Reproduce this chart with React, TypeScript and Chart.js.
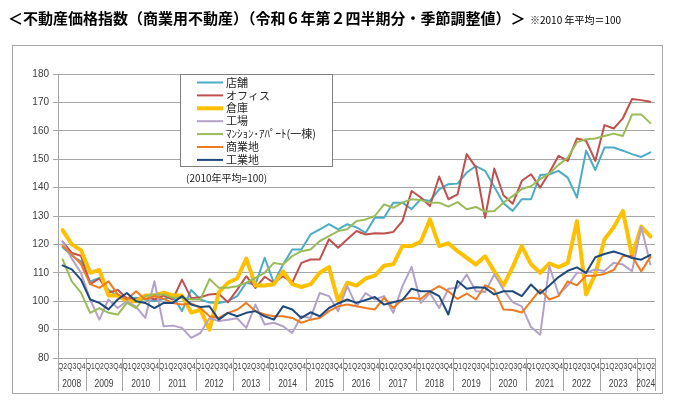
import React, { useEffect, useRef } from 'react';
import { Chart, registerables } from 'chart.js';

Chart.register(...registerables);

const titleText = '＜不動産価格指数（商業用不動産）（令和６年第２四半期分・季節調整値）＞';
const titleNote = '※2010 年平均＝100';
const legendNote = '(2010年平均=100)';

const yearLabels = ['2008', '2009', '2010', '2011', '2012', '2013', '2014', '2015', '2016', '2017', '2018', '2019', '2020', '2021', '2022', '2023', '2024'];
const quartersPerYear = [3, 4, 4, 4, 4, 4, 4, 4, 4, 4, 4, 4, 4, 4, 4, 4, 2];
const firstQuarter = 2;

const quarterLabels: string[] = [];
quartersPerYear.forEach((n, k) => {
  const start = k === 0 ? firstQuarter : 1;
  for (let q = 0; q < n; q++) quarterLabels.push('Q' + (start + q));
});

const seriesNames = ['店舗', 'オフィス', '倉庫', '工場', 'ﾏﾝｼｮﾝ･ｱﾊﾟｰﾄ(一棟)', '商業地', '工業地'];
const seriesColors = ['#4BACC6', '#C0504D', '#FFC000', '#B3A2C7', '#9BBB59', '#EE7B22', '#1F497D'];
const seriesWidths = [2, 2, 4, 2, 2, 2, 2];

const retail = [
  119, 116, 114, 107, 108.2, 104, 101.8, 100.6, 101.2, 100.6, 100, 100.8, 101.8, 96.5, 104, 100.6, 99.5,
  99.4, 100, 101.8, 106.5, 105.9, 115.3, 106.5, 112.9, 118.2, 118.2, 123.5, 125.3, 127.1, 125.3, 127.1,
  126, 124.1, 129.4, 129.4, 134.7, 134.7, 132.4, 135.9, 135.3, 139.4, 141.2, 141.4, 145.3, 147.6, 145.9, 140.3,
  134.5, 131.8, 135.9, 135.9, 144.4, 144.7, 145.9, 143.5, 136.5, 153, 146.2, 154.1, 154.1, 153, 151.8, 150.8, 152.4,
];
const office = [
  121, 117, 116, 106, 108, 103, 104, 101, 100.6, 102, 100.6, 102, 100.6, 107.6, 101, 101.4, 102.4,
  102.6, 99.6, 104, 108.8, 104.7, 108.6, 106.5, 108.8, 106.5, 113.5, 114.7, 114.7, 121.8, 118.8, 121.8,
  124.7, 123.5, 123.9, 123.8, 124.4, 128.2, 138.8, 136.5, 133.5, 143.9, 135.9, 137.6, 151.8, 147.1, 129.4, 146.7,
  137.3, 134.3, 142.4, 144.7, 140, 145.3, 151.2, 149.4, 157.3, 156.5, 149.4, 162, 160.8, 164.4, 171.2, 170.8, 170.2,
];
const warehouse = [
  125, 120, 118, 110, 111, 102, 102, 100, 100, 102, 102, 103, 102, 102, 96, 97, 90,
  103, 106.5, 108, 115, 105.5, 105.5, 106, 110.5, 106, 105, 106, 110, 112, 100, 106.5,
  105.5, 108, 109, 112.5, 113, 119.4, 119.4, 121, 128.8, 119.4, 120.4, 117.6, 115.3, 112.9, 115.8, 110.5,
  105.5, 112, 119.4, 113, 110, 113.3, 112, 113.5, 128.2, 102.4, 109.6, 121.8, 126, 131.8, 116, 126.3, 122.8,
];
const factory = [
  121, 115, 110, 100.6, 93.5, 100.6, 97.6, 100, 98, 94.1, 107, 91.2, 91.4, 90.6, 87.1, 88.8, 94.1,
  93, 93.5, 94, 90.6, 98.8, 91.8, 92.4, 91.2, 88.8, 94.7, 94.1, 102.9, 101.8, 96.5, 105.3,
  98.2, 102.9, 100.6, 101.8, 95.9, 105.3, 112.1, 99.4, 102.9, 97.6, 104.4, 104.7, 109.4, 103.5, 103.2, 109.4,
  104.1, 99.7, 98.2, 90.9, 88.2, 112.4, 102.4, 105.5, 110, 110, 111.2, 110.6, 113.5, 112.9, 110.6, 126.3, 112.9,
];
const apartment = [
  114.7, 107, 103, 95.9, 97.6, 95.9, 95.3, 99.4, 97.6, 101.8, 102.4, 102.4, 101.2, 101.2, 100.6, 100.6, 107.8,
  104.7, 104.7, 105.3, 106.5, 108.2, 110, 113.5, 112.9, 115.9, 117.6, 118.2, 121.2, 122.9, 124.7, 125.3,
  128.2, 128.8, 130, 134.1, 132.9, 134.7, 135.9, 135.6, 134.7, 134.7, 133.3, 134.9, 132.4, 133.2, 131.5, 131.8,
  134.7, 137, 139.5, 140.5, 143, 145, 148, 150.5, 156, 157, 157.3, 158.2, 159, 158.2, 165.7, 165.7, 162.7,
];
const commercialLand = [
  119.4, 116.5, 113, 106, 104.7, 107, 102.4, 100.6, 103.5, 100.6, 101.8, 100.8, 99.4, 98.8, 99.2, 97.6, 94.7,
  94.1, 95.9, 97, 99.4, 96.5, 95.3, 94.7, 94.7, 94.1, 92.4, 93.5, 94.1, 96.5, 98.2, 98.8,
  98.2, 97.6, 97.1, 101.2, 97.6, 100.6, 101.2, 100.8, 103.5, 105.3, 103.5, 100.8, 102.7, 100.6, 105.6, 104.1,
  97.1, 96.9, 96, 100, 104.1, 100.6, 101.8, 107, 105.6, 109, 109, 109.6, 111, 115.9, 115.9, 110.5, 115.6,
];
const industrialLand = [
  112.6, 111.2, 107.6, 100.6, 99.4, 97.1, 100.6, 102.9, 100, 99.4, 97.6, 99.4, 99.4, 101.8, 98.8, 98, 98.2,
  93.5, 95.9, 94.7, 95.9, 96.5, 94.7, 93.5, 98.2, 97.1, 94.1, 96.1, 94.7, 97.6, 99.2, 100.6,
  99.4, 100.4, 101.5, 98.8, 99.6, 100.4, 104.4, 103.5, 103.5, 101.8, 95.3, 107.1, 104.4, 104.9, 104.7, 102.4,
  103.5, 103.5, 101.8, 105.9, 102.7, 105.5, 108.5, 110.7, 111.9, 110, 115.5, 116.6, 117.5, 116.5, 115.2, 114.6, 116.3,
];

const seriesData = [retail, office, warehouse, factory, apartment, commercialLand, industrialLand];

const frameColor = '#a6a6a6';
const gridColor = '#a6a6a6';
const textColor = '#404040';

const framePlugin = {
  id: 'outerFrame',
  beforeDraw(chart: any) {
    const ctx = chart.ctx;
    ctx.save();
    ctx.fillStyle = '#ffffff';
    ctx.fillRect(0, 0, chart.width, chart.height);
    ctx.strokeStyle = frameColor;
    ctx.lineWidth = 1;
    ctx.strokeRect(12.5, 45.5, 650, 348);
    ctx.restore();
  },
};

const xLabelsPlugin = {
  id: 'xLabels',
  afterDraw(chart: any) {
    const ctx = chart.ctx;
    const xs = chart.scales.x;
    const area = chart.chartArea;
    ctx.save();
    ctx.fillStyle = textColor;
    ctx.textAlign = 'center';
    ctx.textBaseline = 'middle';
    ctx.font = '9px "Liberation Sans"';
    (chart.data.labels as string[]).forEach((lab, i) => {
      const px = xs.getPixelForValue(i);
      ctx.save();
      ctx.translate(px, area.bottom + 9);
      ctx.scale(0.75, 1);
      ctx.fillText(lab, 0, 0);
      ctx.restore();
    });
    const half = (xs.getPixelForValue(1) - xs.getPixelForValue(0)) / 2;
    ctx.strokeStyle = gridColor;
    ctx.lineWidth = 1;
    const sep = (px: number) => {
      const p = Math.round(px) + 0.5;
      ctx.beginPath();
      ctx.moveTo(p, area.bottom);
      ctx.lineTo(p, area.bottom + 33);
      ctx.stroke();
    };
    sep(xs.getPixelForValue(0) - half);
    let idx = 0;
    ctx.font = '10px "Liberation Sans"';
    yearLabels.forEach((yl, k) => {
      const n = quartersPerYear[k];
      const start = xs.getPixelForValue(idx) - half;
      const end = xs.getPixelForValue(idx + n - 1) + half;
      sep(end);
      ctx.save();
      ctx.translate((start + end) / 2, area.bottom + 26);
      ctx.scale(0.85, 1);
      ctx.fillText(yl, 0, 0);
      ctx.restore();
      idx += n;
    });
    ctx.restore();
  },
};

const legendPlugin = {
  id: 'boxLegend',
  afterDraw(chart: any) {
    const ctx = chart.ctx;
    ctx.save();
    const bx = 180.5, by = 74.5, bw = 152, bh = 92;
    ctx.fillStyle = '#ffffff';
    ctx.fillRect(bx, by, bw, bh);
    ctx.strokeStyle = '#808080';
    ctx.lineWidth = 1;
    ctx.strokeRect(bx, by, bw, bh);
    ctx.textAlign = 'left';
    ctx.textBaseline = 'middle';
    chart.data.datasets.forEach((ds: any, i: number) => {
      const y = 82.5 + i * 12.9;
      ctx.strokeStyle = ds.borderColor;
      ctx.lineWidth = ds.borderWidth;
      ctx.beginPath();
      ctx.moveTo(197, y);
      ctx.lineTo(223, y);
      ctx.stroke();
      ctx.fillStyle = '#262626';
      ctx.font = '11px "Noto Sans CJK JP"';
      ctx.fillText(ds.label, 226, y);
    });
    ctx.fillStyle = '#262626';
    ctx.font = '10px "Noto Sans CJK JP"';
    ctx.fillText(legendNote, 186, 178);
    ctx.restore();
  },
};

export default function App() {
  const canvasRef = useRef<HTMLCanvasElement | null>(null);

  useEffect(() => {
    if (!canvasRef.current) return;
    const chart = new Chart(canvasRef.current, {
      type: 'line',
      data: {
        labels: quarterLabels,
        datasets: seriesNames.map((name, i) => ({
          label: name,
          data: seriesData[i],
          borderColor: seriesColors[i],
          backgroundColor: seriesColors[i],
          borderWidth: seriesWidths[i],
          pointRadius: 0,
          pointHoverRadius: 0,
          tension: 0,
          fill: false,
          borderJoinStyle: 'round',
          borderCapStyle: 'round',
          order: seriesNames.length - 1 - i,
        })),
      },
      options: {
        responsive: false,
        animation: false,
        events: [],
        layout: { padding: { left: 13, right: 28, top: 74, bottom: 19 } },
        plugins: {
          legend: { display: false },
          tooltip: { enabled: false },
          title: { display: false },
        },
        scales: {
          x: {
            type: 'category',
            offset: true,
            ticks: { display: false },
            grid: { display: false },
            border: { display: false },
            afterFit: (s: any) => { s.height = 35; },
          },
          y: {
            min: 80,
            max: 180,
            ticks: {
              stepSize: 10,
              color: textColor,
              font: { size: 10, family: '"Liberation Sans"' },
              padding: 4,
            },
            grid: { color: gridColor, lineWidth: 1, tickLength: 5, drawTicks: true },
            border: { color: gridColor },
            afterFit: (s: any) => { s.width = 45; },
          },
        },
      },
      plugins: [framePlugin, xLabelsPlugin, legendPlugin],
    } as any);
    return () => chart.destroy();
  }, []);

  return (
    <div style={{ position: 'absolute', left: 0, top: 0, width: 683, height: 412, background: '#fff' }}>
      <canvas ref={canvasRef} width={683} height={412} style={{ position: 'absolute', left: 0, top: 0, width: 683, height: 412 }} />
      <div style={{ position: 'absolute', left: 8, top: 10, fontFamily: '"Noto Sans CJK JP"', fontWeight: 700, fontSize: 15, lineHeight: '16px', color: '#000', whiteSpace: 'nowrap' }}>
        {titleText}
      </div>
      <div style={{ position: 'absolute', left: 530, top: 14, fontFamily: '"Noto Sans CJK JP"', fontSize: 10, lineHeight: '12px', color: '#000', whiteSpace: 'nowrap' }}>
        {titleNote}
      </div>
    </div>
  );
}
